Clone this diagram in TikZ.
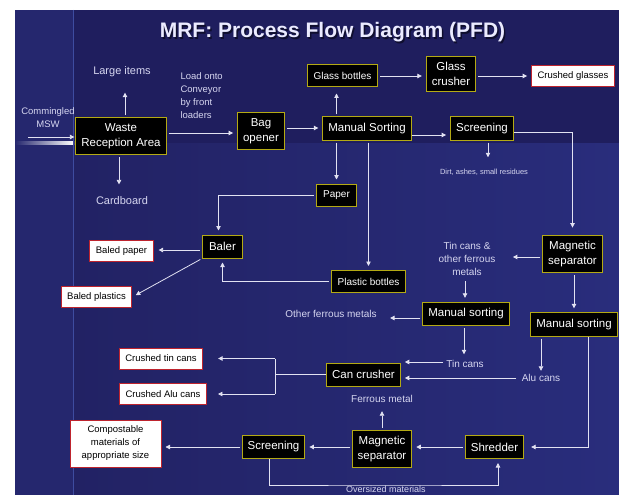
\documentclass[tikz,border=0pt]{standalone}
\usepackage{fontspec}
\setmainfont{Liberation Sans}
\usetikzlibrary{arrows.meta}

\definecolor{slidetop}{RGB}{31,30,94}
\definecolor{slidelow}{RGB}{41,45,124}
\definecolor{slidemid}{RGB}{34,34,100}
\definecolor{slideside}{RGB}{37,39,110}
\definecolor{sideline}{RGB}{62,76,160}
\definecolor{boxedge}{RGB}{180,170,20}
\definecolor{outedge}{RGB}{190,36,46}
\definecolor{flowline}{RGB}{226,226,242}
\definecolor{labeltext}{RGB}{214,214,240}

\begin{document}
\begin{tikzpicture}[x=1pt, y=-1pt, >={Triangle[length=4.5pt,width=4.5pt]},
	unit/.style={draw=boxedge, line width=1pt, fill=black, text=white, align=center,
		font=\fontsize{11.5}{14.5}\selectfont, inner xsep=5.5pt, inner ysep=6.3pt, minimum height=23pt},
	unitsmall/.style={unit, font=\fontsize{10}{12}\selectfont, inner xsep=6.5pt, inner ysep=5pt, minimum height=22pt},
	product/.style={draw=outedge, line width=1pt, fill=white, text=black, align=center,
		font=\fontsize{9.5}{13}\selectfont, inner xsep=6pt, inner ysep=4pt, minimum height=21pt},
	stream/.style={text=labeltext, align=center, font=\fontsize{10}{13}\selectfont},
	flow/.style={->, draw=flowline, line width=0.8pt, shorten <=2pt, shorten >=4pt},
	pipe/.style={draw=flowline, line width=0.8pt}]
	
	% --- 1. Nền slide ---
	\useasboundingbox (0,0) rectangle (619,495);
	\fill[white] (0,0) rectangle (619,495);
	\fill[slideside] (15,10) rectangle (619,495);
	\fill[slidetop] (73,10) rectangle (619,143);
	\shade[left color=slidemid, right color=slidelow] (73,143) rectangle (619,495);
	\shade[left color=slideside, right color=white] (15,141.5) rectangle (74,144.5);
	\draw[sideline, line width=1pt] (73,10) -- (73,495);
	
	% --- 2. Tiêu đề ---
	\node[text=black, opacity=0.5, font=\fontsize{21}{24}\selectfont\bfseries, anchor=base] (titleshadow) at (334,39.5) {MRF: Process Flow Diagram (PFD)};
	\node[text=white!92!blue, font=\fontsize{21}{24}\selectfont\bfseries, anchor=base] (title) at (332.5,38) {MRF: Process Flow Diagram (PFD)};
	
	% --- 3. Các khối xử lý (nền đen, viền vàng) ---
	\node[unit] (waste) at (121,136) {Waste\\Reception Area};
	\node[unit] (bag) at (261,131) {Bag\\opener};
	\node[unit] (sort1) at (367,128.5) {Manual Sorting};
	\node[unitsmall] (glassb) at (342.5,76) {Glass bottles};
	\node[unit] (glassc) at (451,74) {Glass\\crusher};
	\node[unit] (screen1) at (482,128.5) {Screening};
	\node[unitsmall] (paper) at (336.5,195) {Paper};
	\node[unitsmall] (plastic) at (368.5,281.5) {Plastic bottles};
	\node[unit, inner xsep=6.5pt] (baler) at (222.5,246.5) {Baler};
	\node[unit] (magsep1) at (572.5,254) {Magnetic\\separator};
	\node[unit] (sort2) at (466,314) {Manual sorting};
	\node[unit] (sort3) at (574,324.5) {Manual sorting};
	\node[unit] (crusher) at (363.5,374.5) {Can crusher};
	\node[unit] (screen2) at (273.5,447) {Screening};
	\node[unit] (magsep2) at (382,449) {Magnetic\\separator};
	\node[unit] (shred) at (494.5,447) {Shredder};
	
	% --- 4. Sản phẩm (nền trắng, viền đỏ) ---
	\node[product] (cglass) at (573,76) {Crushed glasses};
	\node[product] (bpaper) at (121.5,251) {Baled paper};
	\node[product] (bplast) at (96.5,297) {Baled plastics};
	\node[product] (ctin) at (161,358.5) {Crushed tin cans};
	\node[product] (calu) at (163,394) {Crushed Alu cans};
	\node[product, minimum width=91pt, minimum height=47pt] (compost) at (115.5,443.5) {Compostable\\materials of\\appropriate size};
	
	% --- 5. Nhãn dòng vật liệu ---
	\node[stream, font=\fontsize{11}{13}\selectfont] (large) at (122,72) {Large items};
	\node[stream, font=\fontsize{9.5}{13}\selectfont, align=left, anchor=north west] (load) at (177,69) {Load onto\\Conveyor\\by front\\loaders};
	\node[stream, font=\fontsize{9.5}{13}\selectfont] (msw) at (48,118) {Commingled\\MSW};
	\node[stream, font=\fontsize{11}{13}\selectfont] (cardb) at (122,201) {Cardboard};
	\node[stream, font=\fontsize{7.5}{9}\selectfont] (dirt) at (484,172) {Dirt, ashes, small residues};
	\node[stream] (tinfe) at (467,259) {Tin cans \&\\other ferrous\\metals};
	\node[stream] (otherfe) at (331,313.5) {Other ferrous metals};
	\node[stream] (tincans) at (465,363.5) {Tin cans};
	\node[stream] (alucans) at (541,378) {Alu cans};
	\node[stream] (ferrous) at (382,399) {Ferrous metal};
	\node[stream, font=\fontsize{9}{11}\selectfont, anchor=north, inner sep=0.8pt] (oversized) at (386,485) {Oversized materials};
	
	% --- 6. Các đường dòng chảy ---
	\coordinate (mswin) at (26,137);
	\coordinate (split) at (275,374.5);
	\draw[flow, shorten >=1pt] (mswin) -- (mswin -| waste.west);
	\draw[flow, shorten >=12pt] ([xshift=4pt]waste.north) -- ([xshift=4pt]waste.north |- large.south);
	\draw[flow, shorten >=9pt] ([xshift=-2pt]waste.south) -- ([xshift=-2pt]waste.south |- cardb.north);
	\draw[flow] ([yshift=3pt]waste.east) -- ([yshift=3pt]waste.east -| bag.west);
	\draw[flow] ([yshift=3pt]bag.east) -- ([yshift=3pt]bag.east -| sort1.west);
	\draw[flow, shorten >=6pt] (sort1.north -| paper) -- (glassb.south -| paper);
	\draw[flow] (glassb.east) -- (glassb.east -| glassc.west);
	\draw[flow] (glassc.east |- cglass) -- (cglass.west);
	\draw[flow, shorten <=0pt] ([yshift=-6.5pt]sort1.east) -- ([yshift=-6.5pt]sort1.east -| screen1.west);
	\draw[flow, shorten >=8pt] ([xshift=6pt]screen1.south) -- ([xshift=6pt]screen1.south |- dirt.north);
	\draw[flow, shorten <=0pt, shorten >=7pt] ([yshift=-4pt]screen1.east) -| (magsep1.north);
	\draw[flow] (sort1.south -| paper) -- (paper.north);
	\draw[flow] (sort1.south -| plastic) -- (plastic.north);
	\draw[flow] (paper.west) -| ([xshift=-4pt]baler.north);
	\draw[flow] (plastic.west) -| (baler.south);
	\draw[flow, shorten >=5pt] ([yshift=-3.5pt]baler.west) -- ([yshift=-3.5pt]baler.west -| bpaper.east);
	\draw[flow] (baler.south west) -- (bplast.east);
	\draw[flow, shorten >=14pt] ([yshift=-3pt]magsep1.west) -- ([yshift=-3pt]magsep1.west -| tinfe.east);
	\draw[flow] ([xshift=-2pt]tinfe.south) -- ([xshift=-2pt]tinfe.south |- sort2.north);
	\draw[flow] (magsep1.south -| sort3) -- (sort3.north);
	\draw[flow, shorten >=10pt] ([yshift=-4pt]sort2.west) -- ([yshift=-4pt]sort2.west -| otherfe.east);
	\draw[flow, shorten >=2pt] ([xshift=-2pt]sort2.south) -- ([xshift=-2pt]sort2.south |- tincans.north);
	\draw[flow, shorten <=0pt] ([yshift=1.5pt]tincans.west) -- ([yshift=1.5pt]tincans.west -| crusher.east);
	\draw[flow] (alucans.west) -- (alucans.west -| crusher.east);
	\draw[flow, shorten >=0pt] (sort3.south -| alucans) -- (alucans.north);
	\draw[pipe] (crusher.west) -- (crusher.west -| split) (split |- ctin) -- (split |- calu);
	\draw[flow, shorten <=0pt, shorten >=15pt] (split |- ctin) -- (ctin.east);
	\draw[flow, shorten <=0pt, shorten >=11pt] (split |- calu) -- (calu.east);
	\draw[flow, shorten <=0pt, shorten >=7pt] ([xshift=14pt]sort3.south) |- (shred.east);
	\draw[flow] (shred.west) -- (shred.west -| magsep2.east);
	\draw[flow] (magsep2.west |- screen2) -- (screen2.east);
	\draw[flow, shorten >=5pt] (magsep2.north) -- (magsep2.north |- ferrous.south);
	\draw[flow] (screen2.west) -- (screen2.west -| compost.east);
	\draw[flow, shorten <=0pt] ([xshift=-4pt]screen2.south) |- (oversized.north) -| ([xshift=3.5pt]shred.south);
\end{tikzpicture}
\end{document}
